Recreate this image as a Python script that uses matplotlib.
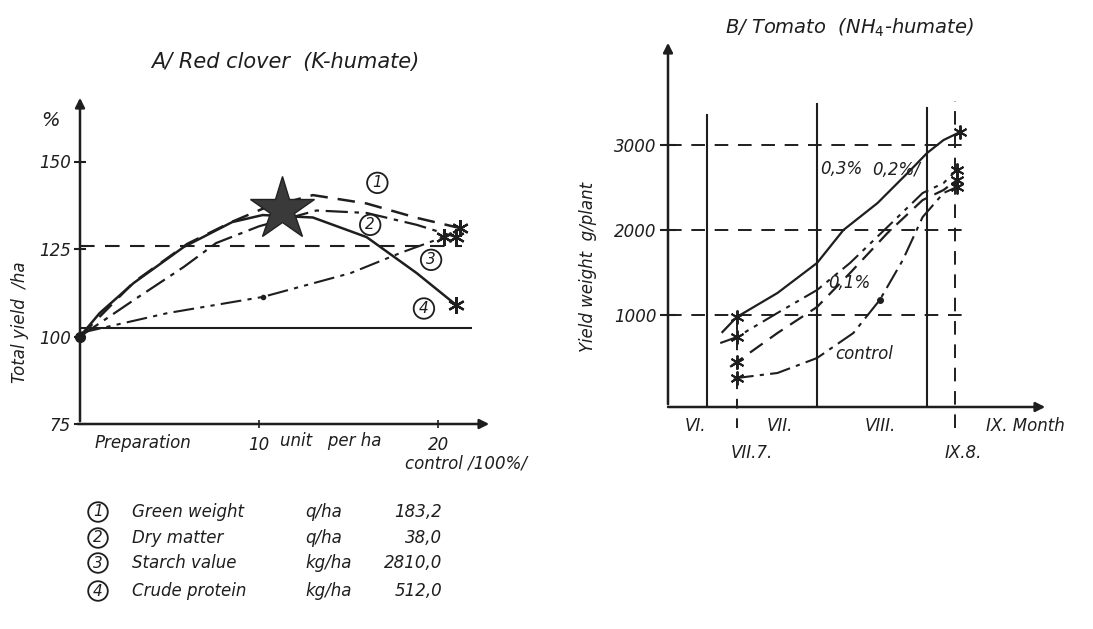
import matplotlib
matplotlib.use("Agg")
import matplotlib.pyplot as plt
import numpy as np

# ---------------- data: A / Red clover ----------------
clover_names = ["Green weight", "Dry matter", "Starch value", "Crude protein"]
clover_units = ["q/ha", "q/ha", "kg/ha", "kg/ha"]
clover_values = ["183,2", "38,0", "2810,0", "512,0"]

c1_x = [0, 3, 6, 8.5, 10.2, 13, 16, 18.8, 21.2]
c1_y = [100, 115.5, 126.5, 132.8, 136.5, 140.4, 138.0, 133.9, 131.0]
c2_x = [0, 3, 5.8, 7.6, 10, 13.2, 16, 18.8, 21.0]
c2_y = [100, 110.4, 119.9, 126.7, 131.5, 136.0, 135.3, 131.9, 128.4]
c3_x = [0, 4.9, 10.2, 15.1, 17.9, 20.3]
c3_y = [101, 106.7, 111.3, 118.1, 123.9, 128.4]
c4_x = [0, 1.1, 3, 5.8, 8.5, 10.2, 13, 16, 18.8, 21.0]
c4_y = [100, 106.7, 115.3, 125.6, 132.7, 134.7, 134.0, 128.4, 118.1, 109.0]

clover_yticks = [75, 100, 125, 150]

# ---------------- data: B / Tomato ----------------
# x in month positions (VII = 1, VIII = 2, IX = 3)
t03_x = [1.14, 1.27, 1.64, 2.0, 2.24, 2.55, 2.85, 3.0, 3.15, 3.30]
t03_y = [800, 976, 1259, 1612, 2000, 2317, 2705, 2905, 3058, 3152]
t02_x = [1.12, 1.27, 1.64, 2.0, 2.3, 2.64, 2.96, 3.15, 3.27]
t02_y = [670, 740, 1024, 1294, 1612, 2035, 2435, 2552, 2705]
t01_x = [1.21, 1.27, 1.64, 2.0, 2.3, 2.64, 2.96, 3.15, 3.27]
t01_y = [390, 447, 788, 1094, 1494, 1964, 2352, 2470, 2588]
tc_x = [1.24, 1.27, 1.64, 2.0, 2.33, 2.57, 2.78, 2.96, 3.15, 3.27]
tc_y = [235, 259, 318, 494, 788, 1176, 1647, 2152, 2435, 2505]

tomato_yticks = [1000, 2000, 3000]
month_bounds = [1.0, 2.0, 3.0]
sample_days = [1.27, 3.25]

# ---------------- figure ----------------
W, H = 1093, 629
fig = plt.figure(figsize=(W / 100, H / 100), dpi=100)
fig.patch.set_facecolor("white")
INK = "#1e1e1e"
plt.rcParams["font.family"] = ["DejaVu Sans"]
FS = dict(style="italic", color=INK)

def px_axes(l, t, r, b):
    return fig.add_axes([l / W, (H - b) / H, (r - l) / W, (b - t) / H])

DASH = (0, (7, 4))
DASHDOT = (0, (10, 3, 2, 3))
DASHDOTDOT = (0, (10, 3, 2, 3, 2, 3))

# ======== panel A ========
ax1 = px_axes(80, 95, 492, 424)
ax1.set_xlim(0, 23.0)
ax1.set_ylim(75, 169.0)
for s in ax1.spines.values():
    s.set_visible(False)
ax1.annotate("", xy=(0, 169), xytext=(0, 75), annotation_clip=False,
             arrowprops=dict(arrowstyle="-|>", lw=1.8, color=INK, mutation_scale=14))
ax1.annotate("", xy=(23.0, 75), xytext=(-0.3, 75), annotation_clip=False,
             arrowprops=dict(arrowstyle="-|>", lw=1.8, color=INK, mutation_scale=14))
ax1.set_yticks(clover_yticks)
ax1.set_yticklabels([str(v) for v in clover_yticks], fontsize=12, **FS)
ax1.set_xticks([10, 20])
ax1.set_xticklabels(["10", "20"], fontsize=12, **FS)
ax1.tick_params(axis="y", direction="inout", length=9, width=1.5, color=INK, pad=2)
ax1.tick_params(axis="x", direction="inout", length=6, width=1.2, color=INK, pad=6)

ax1.plot([0, 21.9], [102.5, 102.5], color=INK, lw=1.5, solid_capstyle="butt")
ax1.plot([0, 21.3], [125.8, 125.8], color=INK, lw=1.5, ls=(0, (7, 5)))

ax1.plot(c1_x, c1_y, color=INK, lw=1.8, ls=DASH)
ax1.plot(c2_x, c2_y, color=INK, lw=1.6, ls=DASHDOT)
ax1.plot(c3_x, c3_y, color=INK, lw=1.5, ls=DASHDOTDOT)
ax1.plot(c4_x, c4_y, color=INK, lw=1.8)
ax1.plot([c3_x[2]], [c3_y[2]], "o", ms=3, color=INK)
ax1.plot([0], [100], "o", ms=7, color=INK, clip_on=False)
for cx, cy in [(c1_x, c1_y), (c2_x, c2_y), (c3_x, c3_y), (c4_x, c4_y)]:
    ax1.plot([cx[-1]], [cy[-1]], marker=(6, 2, 0), ms=12, mew=1.6, color=INK)
ax1.plot([11.3], [136.5], marker="*", ms=48, color="#3a3a3a", mec="#222", mew=1)

for lbl, (lx, ly) in zip(["1", "2", "3", "4"], [(16.6, 143.9), (16.2, 131.9), (19.6, 121.9), (19.2, 108.0)]):
    ax1.text(lx, ly, lbl, fontsize=11, ha="center", va="center", **FS,
             bbox=dict(boxstyle="circle,pad=0.18", fc="white", ec=INK, lw=1.3))

fig.text(285 / W, 1 - 62 / H, "A/ Red clover  (K-humate)", fontsize=15, ha="center", va="center", **FS)
fig.text(50 / W, 1 - 120 / H, "%", fontsize=14, ha="center", va="center", **FS)
fig.text(20 / W, 1 - 322 / H, "Total yield  /ha", fontsize=12, ha="center", va="center", rotation=90, **FS)
fig.text(95 / W, 1 - 443 / H, "Preparation", fontsize=12, ha="left", va="center", **FS)
fig.text(280 / W, 1 - 441 / H, "unit   per ha", fontsize=12, ha="left", va="center", **FS)
fig.text(405 / W, 1 - 464 / H, "control /100%/", fontsize=12, ha="left", va="center", **FS)

rows_y = [512, 538, 563, 591]
for i, ry in enumerate(rows_y):
    fig.text(98 / W, 1 - ry / H, str(i + 1), fontsize=11, ha="center", va="center", **FS,
             bbox=dict(boxstyle="circle,pad=0.15", fc="white", ec=INK, lw=1.3))
    fig.text(132 / W, 1 - ry / H, clover_names[i], fontsize=12, ha="left", va="center", **FS)
    fig.text(305 / W, 1 - ry / H, clover_units[i], fontsize=12, ha="left", va="center", **FS)
    fig.text(442 / W, 1 - ry / H, clover_values[i], fontsize=12, ha="right", va="center", **FS)

# ======== panel B ========
ax2 = px_axes(668, 40, 1048, 407)
ax2.set_xlim(0.645, 4.1)
ax2.set_ylim(-82, 4235)
for s in ax2.spines.values():
    s.set_visible(False)
ax2.annotate("", xy=(0.645, 4235), xytext=(0.645, -82), annotation_clip=False,
             arrowprops=dict(arrowstyle="-|>", lw=1.8, color=INK, mutation_scale=14))
ax2.annotate("", xy=(4.1, -82), xytext=(0.62, -82), annotation_clip=False,
             arrowprops=dict(arrowstyle="-|>", lw=1.8, color=INK, mutation_scale=14))
ax2.set_yticks(tomato_yticks)
ax2.set_yticklabels([str(v) for v in tomato_yticks], fontsize=12, **FS)
ax2.tick_params(axis="y", direction="inout", length=12, width=1.5, color=INK, pad=2)
ax2.set_xticks([])

for v in tomato_yticks:
    ax2.plot([0.645, 3.35], [v, v], color=INK, lw=1.4, ls=(0, (7, 5)))
tops = [3350, 3480, 3440]
for mb, tp in zip(month_bounds, tops):
    ax2.plot([mb, mb], [-82, tp], color=INK, lw=1.5)
ax2.plot([sample_days[0]] * 2, [-330, 1000], color=INK, lw=1.4, ls=(0, (5, 5)), clip_on=False)
ax2.plot([sample_days[1]] * 2, [-330, 3520], color=INK, lw=1.4, ls=(0, (7, 5)), clip_on=False)

ax2.plot(t03_x, t03_y, color=INK, lw=1.6)
ax2.plot(t02_x, t02_y, color=INK, lw=1.5, ls=DASHDOTDOT)
ax2.plot(t01_x, t01_y, color=INK, lw=1.6, ls=DASH)
ax2.plot(tc_x, tc_y, color=INK, lw=1.5, ls=DASHDOT)
for sx, sy in [(t03_x, t03_y), (t02_x, t02_y), (t01_x, t01_y), (tc_x, tc_y)]:
    ax2.plot([sx[1]], [sy[1]], marker=(6, 2, 0), ms=10, mew=1.4, color=INK)
    ax2.plot([sx[-1]], [sy[-1]], marker=(6, 2, 0), ms=10, mew=1.4, color=INK)
ax2.plot([2.57], [1176], "o", ms=4, color=INK)

ax2.text(2.03, 2720, "0,3%", fontsize=12, ha="left", va="center", **FS)
ax2.text(2.50, 2700, "0,2%/", fontsize=12, ha="left", va="center", **FS)
ax2.text(2.10, 1380, "0,1%", fontsize=12, ha="left", va="center", **FS)
ax2.text(2.17, 540, "control", fontsize=12, ha="left", va="center", **FS)

fig.text(850 / W, 1 - 28 / H, "B/ Tomato  (NH$_4$-humate)", fontsize=14, ha="center", va="center", **FS)
fig.text(588 / W, 1 - 267 / H, "Yield weight  g/plant", fontsize=12, ha="center", va="center", rotation=90, **FS)

month_row1 = [("VI.", 695), ("VII.", 780), ("VIII.", 880), ("IX. Month", 1025)]
for t, xp in month_row1:
    fig.text(xp / W, 1 - 426 / H, t, fontsize=12, ha="center", va="center", **FS)
for t, xp in [("VII.7.", 752), ("IX.8.", 963)]:
    fig.text(xp / W, 1 - 453 / H, t, fontsize=12, ha="center", va="center", **FS)

fig.savefig("out.png", dpi=100, facecolor="white")
